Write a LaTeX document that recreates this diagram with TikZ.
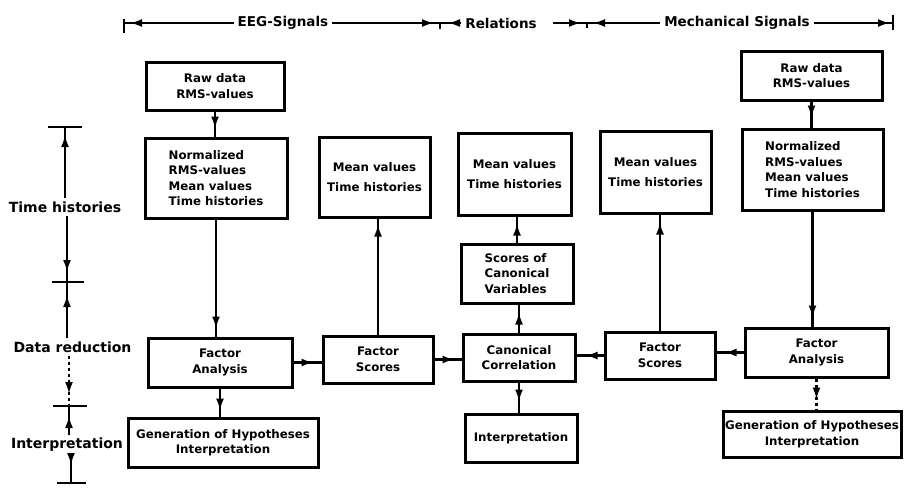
\documentclass[tikz,border=0pt]{standalone}
\usepackage{fontspec}
\setmainfont{DejaVu Sans}
\usetikzlibrary{arrows.meta,decorations.markings}
\begin{document}
\begin{tikzpicture}[x=1pt,y=-1pt,
  box/.style={draw, line width=3pt, inner sep=0pt, font=\bfseries\fontsize{11.8}{15.5}\selectfont, align=center},
  conn/.style={line width=2.2pt, postaction={decorate}, decoration={markings, mark=at position #1 with {\arrow{Latex[length=12pt,width=8pt]}}}},
  conn/.default=-8pt,
  side/.style={font=\bfseries\fontsize{14}{16}\selectfont, inner sep=3pt},
  toplab/.style={font=\bfseries\fontsize{13.5}{16}\selectfont, inner sep=4pt},
  bar/.style={line width=2.6pt},
]
\useasboundingbox (0,0) rectangle (904,488);

% ---------- boxes ----------
\node[box, minimum width=138pt, minimum height=48pt] (rawL) at (215,86) {Raw data\\RMS-values};
\node[box, minimum width=142pt, minimum height=80pt, align=left] (normL) at (216,178) {Normalized\\RMS-values\\Mean values\\Time histories};
\node[box, minimum width=144pt, minimum height=49pt] (faL) at (220,362.5) {Factor\\Analysis};
\node[box, minimum width=190pt, minimum height=49pt] (genL) at (223,442.5) {Generation of Hypotheses\\Interpretation};

\node[box, minimum width=111pt, minimum height=80pt] (mean1) at (374.5,177) {Mean values\\[4pt]Time histories};
\node[box, minimum width=110pt, minimum height=47pt] (fsL) at (378,359.5) {Factor\\Scores};

\node[box, minimum width=113pt, minimum height=82pt] (mean2) at (514.5,174) {Mean values\\[4pt]Time histories};
\node[box, minimum width=112pt, minimum height=59pt, align=left] (scores) at (517,273.5) {Scores of\\Canonical\\Variables};
\node[box, minimum width=112pt, minimum height=47pt] (canon) at (519,357.5) {Canonical\\Correlation};
\node[box, minimum width=112pt, minimum height=48pt] (interp) at (521,438) {Interpretation};

\node[box, minimum width=111pt, minimum height=82pt] (mean3) at (655.5,172) {Mean values\\[4pt]Time histories};
\node[box, minimum width=110pt, minimum height=47pt] (fsR) at (660,355.5) {Factor\\Scores};

\node[box, minimum width=141pt, minimum height=49pt] (rawR) at (811.5,75.5) {Raw data\\RMS-values};
\node[box, minimum width=141pt, minimum height=81pt, align=left] (normR) at (812.5,169.5) {Normalized\\RMS-values\\Mean values\\Time histories};
\node[box, minimum width=143pt, minimum height=49pt] (faR) at (816.5,352.5) {Factor\\Analysis};
\node[box, minimum width=178pt, minimum height=46pt] (genR) at (812,434) {Generation of Hypotheses\\Interpretation};

% ---------- connectors ----------
\draw[conn] (rawL.south) -- (rawL.south |- normL.north);
\draw[conn] (normL.south) -- (normL.south |- faL.north);
\draw[conn=-6pt] (faL.south) -- (faL.south |- genL.north);
\draw[conn] (faL.east) -- (faL.east -| fsL.west);
\draw[conn=-6pt] (fsL.north) -- (fsL.north |- mean1.south);
\draw[conn=-7pt] (fsL.east) -- (fsL.east -| canon.west);
\draw[conn] (canon.north) -- (canon.north |- scores.south);
\draw[conn=-7pt] (scores.north) -- (scores.north |- mean2.south);
\draw[conn=-11pt] (canon.south) -- (canon.south |- interp.north);
\draw[conn=-9pt] (fsR.west) -- (fsR.west -| canon.east);
\draw[conn] (fsR.north) -- (fsR.north |- mean3.south);
\draw[conn] (faR.west) -- (faR.west -| fsR.east);
\draw[conn=-9pt] (normR.south) -- (normR.south |- faR.north);
\draw[conn=-10pt] (rawR.south) -- (rawR.south |- normR.north);
\draw[conn=-10pt, dashed] (faR.south) -- (faR.south |- genR.north);

% ---------- top dimension line ----------
\coordinate (t0) at (124,23);
\coordinate (t1) at (440,23);
\coordinate (t2) at (587,23);
\coordinate (t3) at (893,23);
\node[toplab] (eeg) at (283,23) {EEG-Signals};
\node[toplab] (rel) at (501,23) {Relations};
\node[toplab] (mech) at (737,23) {Mechanical Signals};
\draw[conn=-6pt] (eeg.west) -- (t0);
\draw[conn=-6pt] (eeg.east) -- (t1);
\draw[conn=-8pt] (rel.west) -- (t1);
\draw[conn=-6pt] (rel.east) ++(12,0) -- (t2);
\draw[conn=-6pt] (mech.west) -- (t2);
\draw[conn=-3pt] (mech.east) -- (t3);
\draw[bar] (t0) ++(0,-4) -- ++(0,14);
\draw[bar] (t3) ++(0,-8) -- ++(0,15);
\draw[line width=1.4pt] (t1) -- ++(0,6);
\draw[line width=1.4pt] (t2) -- ++(0,5);

% ---------- left dimension line ----------
\coordinate (b1) at (65,127);
\coordinate (b2) at (67,282);
\coordinate (b3) at (69,406);
\coordinate (b4) at (71,483);
\node[side] (lt) at (65,207) {Time histories};
\node[side] (ld) at (72.5,347) {Data reduction};
\node[side] (li) at (67,445) {Interpretation};
\draw[bar] (b1) ++(-17,0) -- ++(34,0);
\draw[bar] (b2) ++(-15,0) -- ++(32,0);
\draw[bar] (b3) ++(-16,0) -- ++(34,0);
\draw[bar] (b4) ++(-14,0) -- ++(29,0);
\draw[conn] (b1 |- lt.north) -- (b1);
\draw[conn=-10pt] (b2 |- lt.south) -- (b2);
\draw[conn=-13pt] (b2 |- ld.north) -- (b2);
\draw[conn=-12pt, dashed] (b3 |- ld.south) -- (b3);
\draw[conn=-10pt] (b3 |- li.north) -- (b3);
\draw[conn=-18pt] (b4 |- li.south) -- (b4);
\end{tikzpicture}
\end{document}
